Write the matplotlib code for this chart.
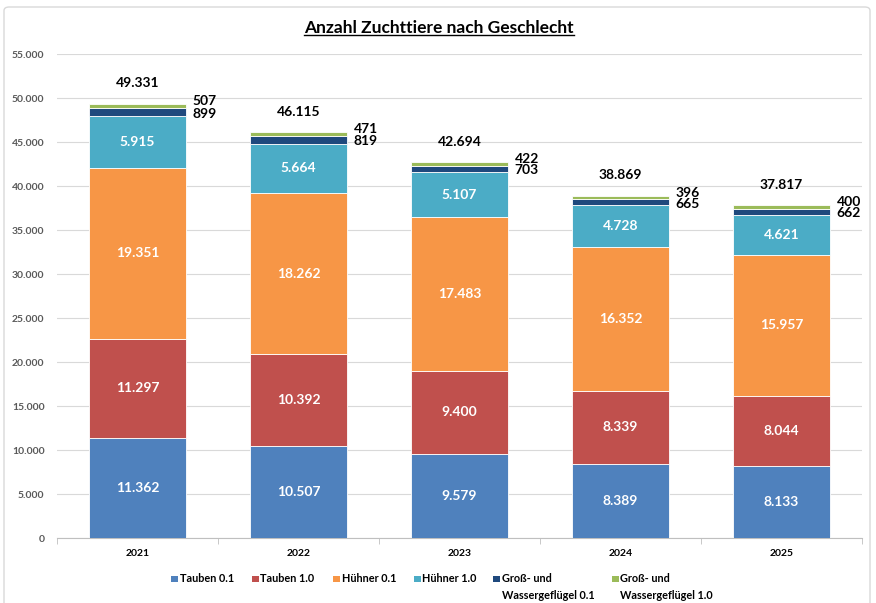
import matplotlib
matplotlib.use("Agg")
import matplotlib.pyplot as plt
import numpy as np
from matplotlib.patches import FancyBboxPatch, Rectangle
from matplotlib.ticker import FuncFormatter, FixedLocator

plt.rcParams['font.family'] = ['Lato', 'DejaVu Sans']

years = ["2021", "2022", "2023", "2024", "2025"]
tauben_01 = [11362, 10507, 9579, 8389, 8133]
tauben_10 = [11297, 10392, 9400, 8339, 8044]
huehner_01 = [19351, 18262, 17483, 16352, 15957]
huehner_10 = [5915, 5664, 5107, 4728, 4621]
gross_01 = [899, 819, 703, 665, 662]
gross_10 = [507, 471, 422, 396, 400]
totals = [49331, 46115, 42694, 38869, 37817]

series_names = ["Tauben 0.1", "Tauben 1.0", "Hühner 0.1", "Hühner 1.0",
                "Groß- und\nWassergeflügel 0.1", "Groß- und\nWassergeflügel 1.0"]
series = [tauben_01, tauben_10, huehner_01, huehner_10, gross_01, gross_10]
colors = ["#4F81BD", "#C0504D", "#F79646", "#4BACC6", "#1F497D", "#9BBB59"]

def de(v):
    return f"{int(v):,}".replace(",", ".")

W, H = 876, 603
fig = plt.figure(figsize=(W / 100, H / 100), dpi=100)
fig.patch.set_facecolor("white")
border = FancyBboxPatch((4 / W, 1 - 612 / H), (870 - 4) / W, (612 - 7) / H,
                        boxstyle="round,pad=0,rounding_size=0.006",
                        transform=fig.transFigure, facecolor="none",
                        edgecolor="#D9D9D9", linewidth=1.0, zorder=10)
fig.patches.append(border)

ax = fig.add_axes([57 / W, 1 - 538 / H, (862 - 57) / W, (538 - 54) / H])
x = np.arange(len(years))
width = 0.6
bottom = np.zeros(len(years))
for i, (vals, c, name) in enumerate(zip(series, colors, series_names)):
    vals = np.array(vals, dtype=float)
    ax.bar(x, vals, width, bottom=bottom, color=c, label=name,
           edgecolor="white", linewidth=0.6, zorder=3)
    if i < 4:
        for xi, b, v in zip(x, bottom, vals):
            ax.text(xi, b + v / 2, de(v), ha="center", va="center",
                    color="white", fontsize=10, fontweight="bold", zorder=4)
    elif i == 4:
        for xi, b, v in zip(x, bottom, vals):
            ax.annotate(de(v), (xi + width / 2, b + v / 2), xytext=(5, -1),
                        textcoords="offset points", ha="left", va="center",
                        fontsize=10, fontweight="bold", color="black")
    else:
        for xi, b, v in zip(x, bottom, vals):
            ax.annotate(de(v), (xi + width / 2, b + v / 2), xytext=(5, 3.5),
                        textcoords="offset points", ha="left", va="center",
                        fontsize=10, fontweight="bold", color="black")
    bottom += vals

for xi, t in zip(x, totals):
    ax.annotate(de(t), (xi, t), xytext=(0, 10.5), textcoords="offset points",
                ha="center", va="bottom", fontsize=10, fontweight="bold",
                color="black")

ax.set_xlim(-0.5, len(years) - 0.5)
ax.set_ylim(0, 55000)
ax.set_yticks(np.arange(0, 55001, 5000))
ax.yaxis.set_major_formatter(FuncFormatter(lambda v, p: de(v)))
ax.grid(axis="y", color="#D9D9D9", linewidth=0.8, zorder=0)
ax.set_axisbelow(True)
for s in ["top", "right", "left"]:
    ax.spines[s].set_visible(False)
ax.spines["bottom"].set_color("#BFBFBF")
ax.tick_params(axis="y", length=0, labelsize=7.5, labelcolor="#595959", pad=9)
for lab in ax.get_yticklabels():
    lab.set_fontweight("bold")
ax.set_xticks(x)
ax.set_xticklabels(years, fontsize=7.5, fontweight="bold")
ax.tick_params(axis="x", which="major", length=0, pad=8)
ax.xaxis.set_minor_locator(FixedLocator(np.arange(-0.5, len(years), 1.0)))
ax.tick_params(axis="x", which="minor", length=4, color="#BFBFBF")

fig.text(439 / W, 1 - 28 / H, "Anzahl Zuchttiere nach Geschlecht", ha="center",
         va="center", fontsize=12.5, fontweight="bold", color="black")
r = fig.canvas.get_renderer()
t = fig.texts[-1]
bb = t.get_window_extent(renderer=r)
fig.add_artist(plt.Line2D([bb.x0 / W, bb.x1 / W], [(bb.y0 + 1) / H] * 2,
                          transform=fig.transFigure, color="black", linewidth=1.0))

# legend (manual layout to keep the marker at the first line of wrapped labels)
leg_sq_x = [171, 252, 333, 414, 493, 612]
leg_y = 579
for sx, c, name in zip(leg_sq_x, colors, series_names):
    fig.patches.append(Rectangle((sx / W, 1 - (leg_y + 3) / H), 6.5 / W, 6.5 / H,
                                 transform=fig.transFigure, facecolor=c,
                                 edgecolor="none"))
    fig.text((sx + 8.5) / W, 1 - (leg_y - 5.5) / H, name, ha="left", va="top",
             fontsize=7.8, fontweight="bold", color="black", linespacing=1.6)

fig.savefig("out.png", dpi=100)
